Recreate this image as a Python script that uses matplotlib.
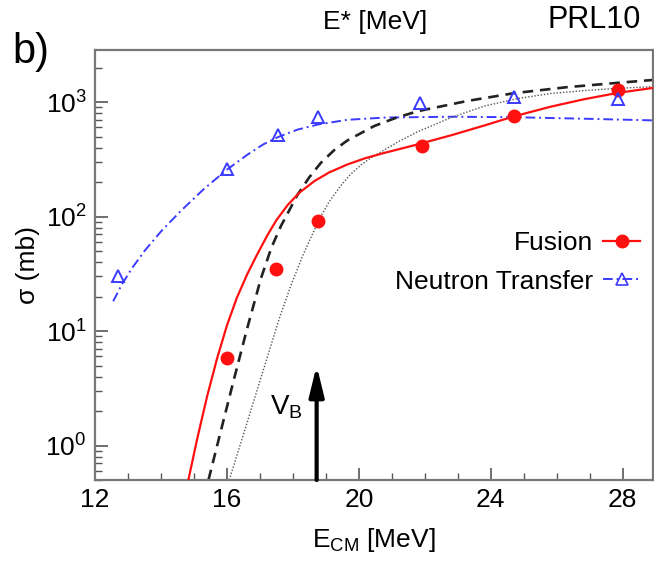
import matplotlib
matplotlib.use("Agg")
import matplotlib.pyplot as plt
from matplotlib.lines import Line2D
from matplotlib.ticker import MultipleLocator, LogLocator

plt.rcParams["font.family"] = ["Liberation Sans", "DejaVu Sans"]
plt.rcParams["mathtext.fontset"] = "custom"
plt.rcParams["mathtext.rm"] = "Liberation Sans"
plt.rcParams["mathtext.it"] = "Liberation Sans:italic"
plt.rcParams["mathtext.bf"] = "Liberation Sans:bold"
plt.rcParams["mathtext.default"] = "regular"

# Measured cross sections (E_CM in MeV, sigma in mb)
fusion_E = [16.0, 17.5, 18.75, 21.9, 24.7, 27.85]
fusion_sigma = [5.8, 35, 92, 410, 760, 1280]
transfer_E = [12.7, 16.0, 17.55, 18.75, 21.85, 24.7, 27.85]
transfer_sigma = [30, 260, 515, 740, 975, 1115, 1060]

# Fusion calculation (solid)
calc_fus_E = [14.83, 15.1, 15.4, 15.7, 16.0, 16.3, 16.62, 16.9, 17.23, 17.5,
              17.84, 18.2, 18.65, 19.1, 19.65, 20.2, 20.76, 21.78, 22.8, 23.8,
              24.7, 25.82, 26.83, 27.84, 28.95]
calc_fus_sigma = [0.5, 1.15, 2.7, 5.75, 11.2, 19.5, 31.6, 45.7, 69, 93,
                  126, 162, 204, 243, 285, 324, 359, 427, 513, 624,
                  750, 912, 1059, 1202, 1334]

# Second calculation (dashed)
calc_dash_E = [15.44, 15.8, 16.2, 16.6, 17.03, 17.35, 17.64, 18.14, 18.5, 18.85,
               19.25, 19.65, 20.46, 21.1, 21.78, 23.29, 24.71, 26.3, 27.84, 28.95]
calc_dash_sigma = [0.5, 1.29, 3.67, 10.2, 28.8, 53.7, 83, 155, 221, 295,
                   380, 462, 617, 724, 832, 1023, 1197, 1349, 1472, 1563]

# Third calculation (dotted)
calc_dot_E = [16.07, 16.6, 17.2, 17.6, 17.94, 18.3, 18.77, 19.1, 19.45, 19.75,
              20.06, 20.4, 20.76, 21.2, 21.78, 22.8, 23.8, 24.8, 25.82, 26.8,
              27.84, 28.95]
calc_dot_sigma = [0.5, 1.55, 5.62, 13.2, 25.1, 45.7, 91.2, 135, 186, 234,
                  282, 331, 380, 452, 550, 733, 923, 1072, 1189, 1259,
                  1318, 1365]

# Neutron transfer calculation (dash-dot)
calc_tr_E = [12.55, 12.8, 13.1, 13.5, 14.0, 14.6, 15.3, 16.0, 16.62, 17.1,
             17.55, 18.14, 18.77, 19.65, 20.8, 22.8, 24.7, 26.8, 28.95]
calc_tr_sigma = [18.2, 25.1, 34.7, 50.1, 74.1, 112, 174, 257, 347, 427,
                 495, 575, 638, 700, 733, 745, 738, 716, 692]

# Coulomb barrier marker
V_B = 18.72
V_B_tip = 5.0

RED = "#ff1010"
BLUE = "#3b3bff"

fig = plt.figure(figsize=(6.54, 5.62), dpi=100)
ax = fig.add_axes([0.1453, 0.1459, 0.8532, 0.7651])

tr_style = dict(color=BLUE, lw=1.4, ls=(0, (5, 2, 1, 2)))
fus_style = dict(color=RED, lw=1.6, ls="-")

ax.plot(calc_tr_E, calc_tr_sigma, **tr_style, zorder=2)
ax.plot(calc_dot_E, calc_dot_sigma, color="#555555", lw=1.0, ls=(0, (1, 1.3)), zorder=2)
ax.plot(calc_dash_E, calc_dash_sigma, color="#222222", lw=1.9, ls=(0, (4, 2.6)), zorder=2)
ax.plot(calc_fus_E, calc_fus_sigma, **fus_style, zorder=3)

ax.plot(fusion_E, fusion_sigma, ls="none", marker="o", ms=9, color=RED, zorder=4)
ax.plot(transfer_E, transfer_sigma, ls="none", marker="^", ms=9, mfc="none",
        mec=BLUE, mew=1.4, zorder=4)

ax.annotate("", xy=(V_B, V_B_tip), xytext=(V_B, 0.5),
            arrowprops=dict(arrowstyle="-|>,head_length=0.9,head_width=0.22",
                            lw=3, color="black", mutation_scale=20,
                            shrinkA=0, shrinkB=0), zorder=5)
ax.text(18.3, 1.85, r"$\mathregular{V_B}$", fontsize=20, ha="right", va="baseline")

ax.set_yscale("log")
ax.set_xlim(12, 28.92)
ax.set_ylim(0.5, 2850)

ax.xaxis.set_major_locator(MultipleLocator(4))
ax.xaxis.set_minor_locator(MultipleLocator(1))
ax.yaxis.set_major_locator(LogLocator(base=10))
ax.yaxis.set_minor_locator(LogLocator(base=10, subs=range(2, 10)))

for sp in ax.spines.values():
    sp.set_color("#777777")
    sp.set_linewidth(1.6)

ax.tick_params(which="both", direction="in", color="#555555", top=False, right=False,
               labelsize=19, pad=6)
ax.tick_params(which="major", length=9, width=1.2)
ax.tick_params(which="minor", length=5, width=1.0)

ax.set_xlabel(r"$\mathregular{E_{CM}}$ [MeV]", fontsize=19, labelpad=10)
ax.set_ylabel("σ (mb)", fontsize=19)
ax.yaxis.set_label_coords(-0.099, 0.5)

handles = [
    Line2D([], [], marker="o", ms=9, **fus_style),
    Line2D([], [], marker="^", ms=9, mfc="none", mec=BLUE, mew=1.2, **tr_style),
]
ax.legend(handles, ["Fusion", "Neutron Transfer"], loc="center right",
          bbox_to_anchor=(0.977, 0.506), markerfirst=False, frameon=False,
          fontsize=19, handlelength=1.4, handletextpad=0.4, labelspacing=0.55,
          borderaxespad=0, borderpad=0)

fig.text(375 / 654, 1 - 29 / 562, "E* [MeV]", fontsize=19, ha="center", va="baseline")
fig.text(548 / 654, 1 - 28 / 562, "PRL10", fontsize=22, ha="left", va="baseline")
fig.text(12 / 654, 1 - 63 / 562, "b)", fontsize=30, ha="left", va="baseline")

fig.savefig("out.png", dpi=100)
